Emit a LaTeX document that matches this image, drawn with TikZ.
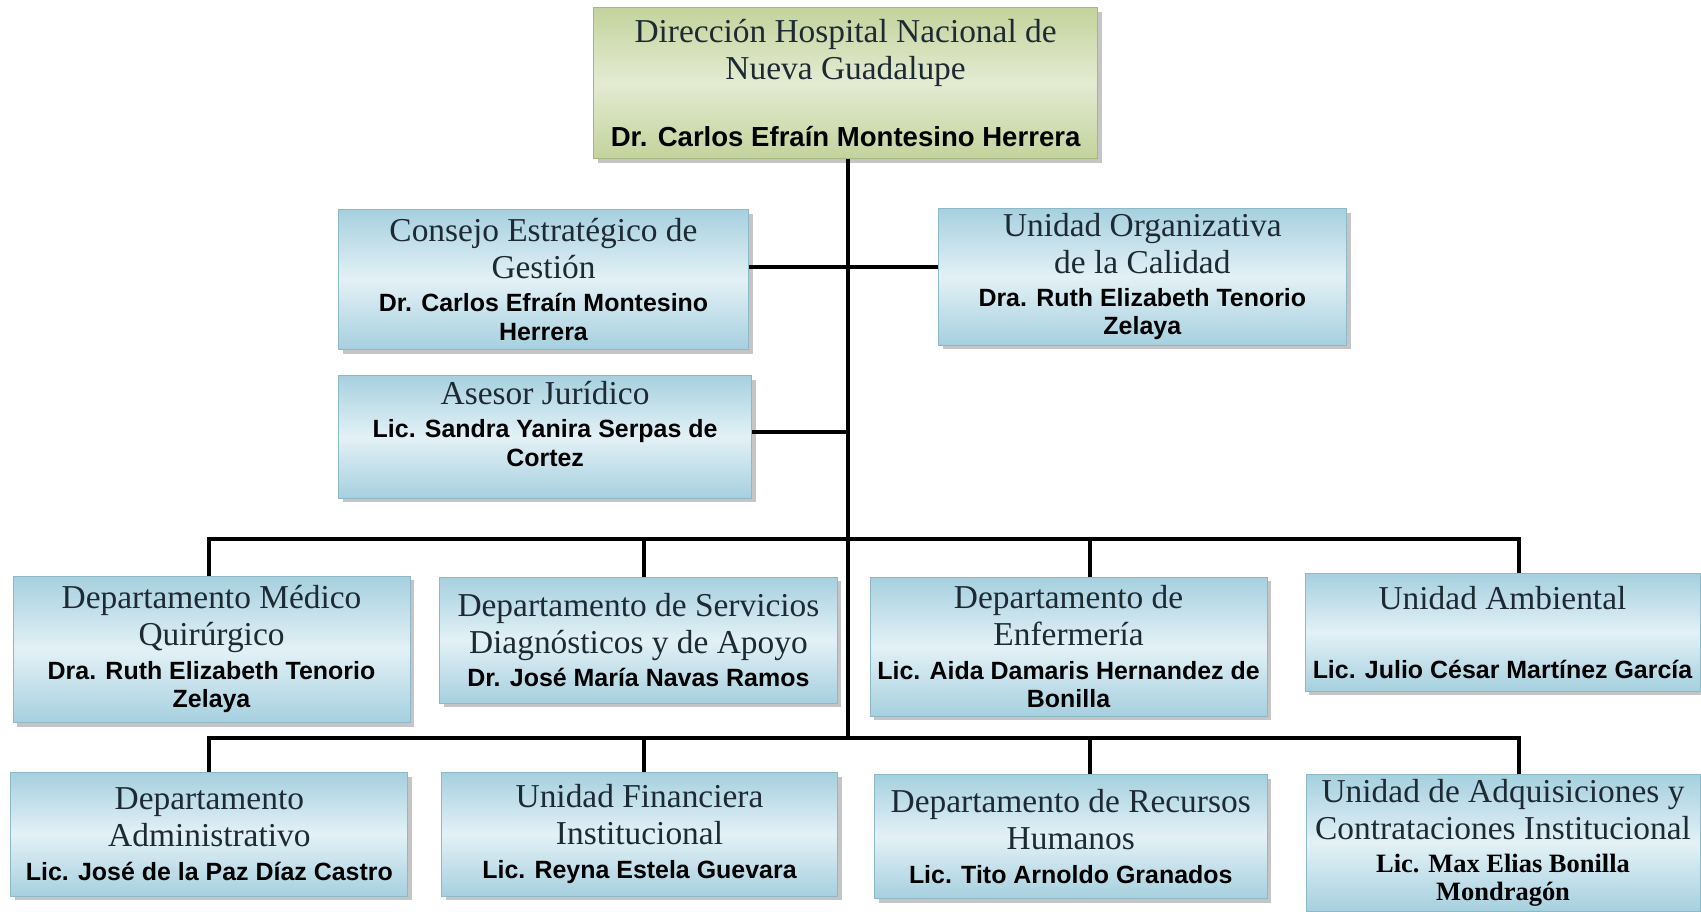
\documentclass[tikz,border=0pt]{standalone}
\usepackage{fontspec}
\setmainfont{Liberation Serif}
\setsansfont{Liberation Sans}
\usetikzlibrary{shadows}
\definecolor{bluedge}{HTML}{A6D0DF}
\definecolor{bluemid}{HTML}{E3F1F6}
\definecolor{blueline}{HTML}{8DB8C8}
\definecolor{greenedge}{HTML}{C3D39C}
\definecolor{greenmid}{HTML}{E4EBD2}
\definecolor{greenline}{HTML}{A6B87F}
\definecolor{titletext}{HTML}{1E2A33}
\newcommand\ttl{\fontsize{15.4}{17}\selectfont}
\newcommand\nm{\color{black}\fontsize{11.5}{17}\sffamily\bfseries\selectfont}
\newcommand\nmserif{\color{black}\fontsize{12.2}{17}\rmfamily\bfseries\selectfont}
\tikzset{
  unit/.style={draw=blueline, line width=0.4pt, top color=bluedge, bottom color=bluedge,
    middle color=bluemid, drop shadow={shadow xshift=2pt, shadow yshift=-2pt, fill=black!45},
    align=center, font=\ttl, text=titletext, minimum width=183pt, inner sep=1pt},
  head/.style={unit, draw=greenline, top color=greenedge, bottom color=greenedge, middle color=greenmid},
  link/.style={line width=1.75pt}
}
\begin{document}
\begin{tikzpicture}[x=0.5pt, y=-0.5pt]
            \useasboundingbox (0,0) rectangle (1568,840);
            % direccion
            \node[head, minimum width=232.5pt, minimum height=69.5pt] (dir) at (779.5,76.5)
              {Dirección Hospital Nacional de\\ Nueva Guadalupe\\[14pt]
               \nm\fontsize{12.7}{17}\selectfont Dr. Carlos Efraín Montesino Herrera};
            % staff
            \node[unit, minimum width=189pt, minimum height=64.5pt] (consejo) at (501,257.5)
              {Consejo Estratégico de\\ Gestión\\[-1.5pt] \nm Dr. Carlos Efraín Montesino\\[-4pt] \nm Herrera};
            \node[unit, minimum width=188pt, minimum height=63pt] (calidad) at (1053,255)
              {Unidad Organizativa\\ de la Calidad\\[-1.5pt] \nm Dra. Ruth Elizabeth Tenorio\\[-4pt] \nm Zelaya};
            \node[unit, minimum width=190.5pt, minimum height=56.5pt] (asesor) at (502.5,402.5)
              {Asesor Jurídico\\[-1.5pt] \nm Lic. Sandra Yanira Serpas de\\[-4pt] \nm Cortez\\[-5pt]};
            % first row
            \node[unit, minimum height=67.5pt] (medico) at (195,598.5)
              {Departamento Médico\\ Quirúrgico\\[-1.5pt] \nm Dra. Ruth Elizabeth Tenorio\\[-4pt] \nm Zelaya};
            \node[unit, minimum height=58pt] (servicios) at (588.5,590)
              {Departamento de Servicios\\ Diagnósticos y de Apoyo\\[-1.5pt] \nm Dr. José María Navas Ramos};
            \node[unit, minimum height=64pt] (enfermeria) at (985,596)
              {Departamento de\\ Enfermería\\[-1.5pt] \nm Lic. Aida Damaris Hernandez de\\[-4pt] \nm Bonilla};
            \node[unit, minimum width=182pt, minimum height=54pt] (ambiental) at (1385,583)
              {Unidad Ambiental\\[14.5pt] \nm Lic. Julio César Martínez García};
            % second row
            \node[unit, minimum height=57pt] (admin) at (193,769)
              {Departamento\\ Administrativo\\[-1.5pt] \nm Lic. José de la Paz Díaz Castro};
            \node[unit, minimum width=182.5pt, minimum height=57pt] (financiera) at (589.5,769)
              {Unidad Financiera\\ Institucional\\[-1.5pt] \nm Lic. Reyna Estela Guevara};
            \node[unit, minimum width=181pt, minimum height=57pt] (rrhh) at (987,771)
              {Departamento de Recursos\\ Humanos\\[-1.5pt] \nm Lic. Tito Arnoldo Granados};
            \node[unit, minimum width=181.5pt, minimum height=63pt] (adquis) at (1385.5,777)
              {Unidad de Adquisiciones y\\ Contrataciones Institucional\\[-1.5pt] \nmserif Lic. Max Elias Bonilla\\[-4pt] \nmserif Mondragón};
            % lines
            \coordinate (b1) at (782,497);
            \coordinate (b2) at (782,680);
            \draw[link] (dir.south -| b1) -- (b2);
            \draw[link] ([yshift=4.5pt]calidad.west) -- ([yshift=4.5pt]calidad.west -| consejo.east);
            \draw[link] ([yshift=2.25pt]asesor.east) -- ([yshift=2.25pt]asesor.east -| b1);
            \draw[link] ([xshift=-1pt]medico.north) |- (b1) -| ([xshift=7.5pt]ambiental.north);
            \foreach \n/\s in {servicios/2.75pt, enfermeria/10pt}
              \draw[link] ([xshift=\s]\n.north) |- (b1);
            \draw[link] (admin.north) |- (b2) -| ([xshift=7.25pt]adquis.north);
            \foreach \n/\s in {financiera/2.25pt, rrhh/9pt}
              \draw[link] ([xshift=\s]\n.north) |- (b2);
        \end{tikzpicture}
\end{document}
